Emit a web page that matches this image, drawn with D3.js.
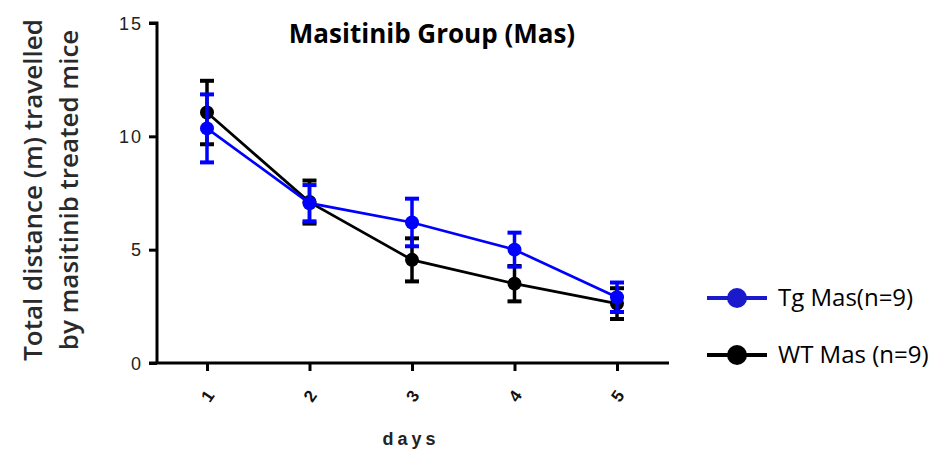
<!DOCTYPE html>
<html>
<head>
<meta charset="utf-8">
<script src="https://cdn.jsdelivr.net/npm/d3@7"></script>
<style>
  body { margin: 0; background: #fff; }
  svg { display: block; }
</style>
</head>
<body>
<svg id="chart"></svg>
<script>
// values
var DAYS = [1, 2, 3, 4, 5];
var Y_TICKS = [0, 5, 10, 15];

var TG_MEAN = [10.35, 7.05, 6.2, 5.0, 2.9];
var TG_ERR = [1.5, 0.8, 1.05, 0.75, 0.65];
var WT_MEAN = [11.05, 7.1, 4.55, 3.5, 2.62];
var WT_ERR = [1.4, 0.95, 0.95, 0.78, 0.68];

var SERIES_NAMES = ["Tg Mas(n=9)", "WT Mas (n=9)"];
var SERIES_COLORS = ["#0000ff", "#000000"];
var LEGEND_COLORS = ["#1a1acc", "#000000"];

var canvas_w = 938, canvas_h = 451;
var x0 = 157, x1 = 669, y0 = 363, y1 = 23;

var svg = d3.select("#chart").attr("width", canvas_w).attr("height", canvas_h);

var x = d3.scaleLinear().domain([1, 5]).range([207, 617]);
var y = d3.scaleLinear().domain([0, 15]).range([y0, y1]);

// y axis
var yAxis = d3.axisLeft(y).tickValues(Y_TICKS).tickSize(8).tickPadding(6);
var gy = svg.append("g").attr("transform", "translate(" + x0 + ",0)").call(yAxis);
gy.attr("font-size", null);
gy.select(".domain").attr("stroke", "#000").attr("stroke-width", 3)
  .attr("d", "M-8," + y1 + "H0V" + y0);
gy.selectAll(".tick line").attr("stroke", "#000").attr("stroke-width", 3);
gy.selectAll(".tick text").attr("fill", "#222")
  .attr("font-family", "Liberation Sans, Arial, sans-serif")
  .attr("font-size", 18).attr("dy", "0.35em").attr("letter-spacing", 2);

// x axis
var xAxis = d3.axisBottom(x).tickValues(DAYS).tickSize(8).tickFormat(d3.format("d"));
var gx = svg.append("g").attr("transform", "translate(0," + y0 + ")").call(xAxis);
gx.attr("font-size", null);
gx.select(".domain").attr("stroke", "#000").attr("stroke-width", 3)
  .attr("d", "M" + (x0 - 8) + ",0H" + x1);
gx.selectAll(".tick line").attr("stroke", "#000").attr("stroke-width", 3);
gx.selectAll(".tick text")
  .attr("fill", "#111")
  .attr("font-family", "Liberation Sans, Arial, sans-serif")
  .attr("font-size", 17)
  .attr("font-weight", "bold")
  .attr("y", 0).attr("dy", "0.35em")
  .attr("text-anchor", "middle")
  .attr("transform", "translate(0,33) rotate(-55)");

// axis titles
svg.append("text")
  .attr("x", 411).attr("y", 445)
  .attr("text-anchor", "middle")
  .attr("font-family", "Liberation Sans, Arial, sans-serif")
  .attr("font-size", 18).attr("font-weight", "bold")
  .attr("letter-spacing", 4).attr("fill", "#222")
  .text("days");

var ylab = svg.append("text")
  .attr("transform", "translate(0,190) rotate(-90)")
  .attr("text-anchor", "middle")
  .attr("font-family", "Open Sans, sans-serif")
  .attr("font-size", 26).attr("font-weight", 600).attr("fill", "#2a2a2a");
ylab.append("tspan").attr("x", 0).attr("y", 42).text("Total distance (m) travelled");
ylab.append("tspan").attr("x", 0).attr("y", 78).text("by masitinib treated mice");

svg.append("text")
  .attr("x", 432).attr("y", 43)
  .attr("text-anchor", "middle")
  .attr("font-family", "Open Sans, sans-serif")
  .attr("font-size", 26).attr("font-weight", "bold")
  .attr("fill", "#000")
  .text("Masitinib Group (Mas)");

// series
var series = [
  {name: SERIES_NAMES[1], mean: WT_MEAN, err: WT_ERR, color: SERIES_COLORS[1]},
  {name: SERIES_NAMES[0], mean: TG_MEAN, err: TG_ERR, color: SERIES_COLORS[0]}
];

var line = d3.line().x(function(d) { return x(d.day); }).y(function(d) { return y(d.v); });

series.forEach(function(s) {
  var pts = DAYS.map(function(d, i) { return {day: d, v: s.mean[i], e: s.err[i]}; });
  var g = svg.append("g");
  g.append("path").datum(pts).attr("d", line)
    .attr("fill", "none").attr("stroke", s.color).attr("stroke-width", 2.7);

  var eb = g.selectAll(".eb").data(pts).enter().append("g");
  eb.append("line")
    .attr("x1", function(d) { return x(d.day); }).attr("x2", function(d) { return x(d.day); })
    .attr("y1", function(d) { return y(d.v + d.e); }).attr("y2", function(d) { return y(d.v - d.e); })
    .attr("stroke", s.color).attr("stroke-width", 3.5);
  [1, -1].forEach(function(sign) {
    eb.append("line")
      .attr("x1", function(d) { return x(d.day) - 7; }).attr("x2", function(d) { return x(d.day) + 7; })
      .attr("y1", function(d) { return y(d.v + sign * d.e); }).attr("y2", function(d) { return y(d.v + sign * d.e); })
      .attr("stroke", s.color).attr("stroke-width", 4);
  });
  g.selectAll(".dot").data(pts).enter().append("circle")
    .attr("cx", function(d) { return x(d.day); }).attr("cy", function(d) { return y(d.v); })
    .attr("r", 7).attr("fill", s.color);
});

// legend
var legend = svg.append("g");
SERIES_NAMES.forEach(function(name, i) {
  var ly = 298 + i * 57;
  legend.append("line").attr("x1", 707).attr("x2", 767).attr("y1", ly).attr("y2", ly)
    .attr("stroke", LEGEND_COLORS[i]).attr("stroke-width", 4);
  legend.append("circle").attr("cx", 737).attr("cy", ly).attr("r", 10).attr("fill", LEGEND_COLORS[i]);
  legend.append("text").attr("x", 778).attr("y", ly).attr("dy", "0.35em")
    .attr("font-family", "Open Sans, sans-serif").attr("font-size", 24)
    .attr("fill", "#000").text(name);
});
</script>
</body>
</html>
